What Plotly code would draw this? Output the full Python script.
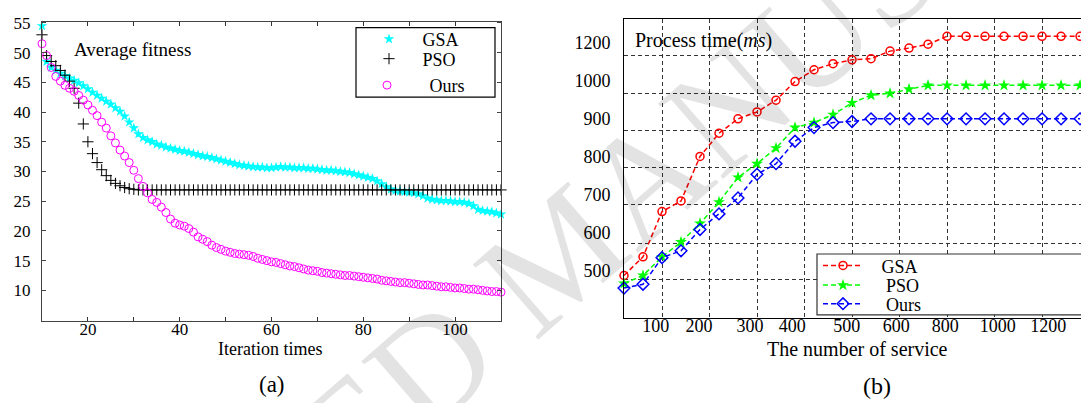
import plotly.graph_objects as go

W, H = 1081, 403


def px(x):
    return x / W


def py(y):
    return 1 - y / H


# ---------------- (a) convergence data ----------------
iterations = list(range(10, 111))

gsa_fitness = [
    54.5, 48.5, 47.5, 47.0, 46.5, 46.1, 45.7, 45.3, 44.9, 44.4,
    43.9, 43.3, 42.8, 42.3, 41.8, 41.3, 40.7, 40.1, 39.3, 38.3,
    37.3, 36.3, 35.7, 35.3, 35.0, 34.6, 34.4, 34.1, 33.9, 33.7,
    33.5, 33.4, 33.2, 33.0, 32.8, 32.6, 32.5, 32.3, 32.1, 31.9,
    31.7, 31.5, 31.3, 31.1, 31.0, 30.9, 30.8, 30.7, 30.7, 30.6,
    30.6, 30.7, 30.8, 30.7, 30.7, 30.6, 30.6, 30.6, 30.5, 30.5,
    30.4, 30.3, 30.2, 30.2, 30.1, 30.0, 29.9, 29.8, 29.6, 29.4,
    29.2, 29.0, 28.8, 28.4, 27.9, 27.4, 27.0, 26.8, 26.7, 26.6,
    26.5, 26.4, 26.2, 25.9, 25.5, 25.3, 25.2, 25.1, 25.1, 25.0,
    24.9, 24.9, 24.8, 24.6, 24.2, 23.6, 23.4, 23.3, 23.2, 23.0,
    22.8,
]

pso_fitness = [
    53.0, 49.5, 48.5, 47.8, 47.0, 46.2, 45.2, 44.0, 41.5, 38.0,
    35.0, 33.0, 31.5, 30.3, 29.3, 28.5, 28.0, 27.6, 27.3, 27.1,
    27.0, 26.9, 26.9, 26.9, 26.9, 26.9, 26.9, 26.9, 26.9, 26.9,
    26.9, 26.9, 26.9, 26.9, 26.9, 26.9, 26.9, 26.9, 26.9, 26.9,
    26.9, 26.9, 26.9, 26.9, 26.9, 26.9, 26.9, 26.9, 26.9, 26.9,
    26.9, 26.9, 26.9, 26.9, 26.9, 26.9, 26.9, 26.9, 26.9, 26.9,
    26.9, 26.9, 26.9, 26.9, 26.9, 26.9, 26.9, 26.9, 26.9, 26.9,
    26.9, 26.9, 26.9, 26.9, 26.9, 26.9, 26.9, 26.9, 26.9, 26.9,
    26.9, 26.9, 26.9, 26.9, 26.9, 26.9, 26.9, 26.9, 26.9, 26.9,
    26.9, 26.9, 26.9, 26.9, 26.9, 26.9, 26.9, 26.9, 26.9, 26.9,
    26.9,
]

ours_fitness = [
    51.5, 49.5, 47.5, 46.0, 45.2, 44.5, 44.0, 43.5, 42.8, 42.0,
    41.2, 40.3, 39.4, 38.3, 37.3, 36.0, 34.8, 33.6, 32.6, 31.5,
    30.2, 28.8, 27.5, 26.4, 25.3, 24.8, 24.0, 23.1, 22.0, 21.3,
    21.0, 20.8, 20.4, 19.8, 19.0, 18.6, 18.2, 17.6, 17.2, 16.9,
    16.6, 16.4, 16.2, 16.1, 16.0, 15.9, 15.7, 15.4, 15.2, 15.0,
    14.8, 14.7, 14.5, 14.3, 14.1, 14.0, 13.8, 13.6, 13.4, 13.3,
    13.2, 13.0, 12.9, 12.8, 12.7, 12.6, 12.5, 12.5, 12.4, 12.3,
    12.2, 12.1, 12.0, 11.9, 11.7, 11.6, 11.5, 11.4, 11.3, 11.3,
    11.2, 11.1, 11.0, 10.9, 10.9, 10.8, 10.7, 10.6, 10.6, 10.5,
    10.4, 10.4, 10.3, 10.2, 10.2, 10.1, 10.0, 9.9, 9.8, 9.8,
    9.7,
]

fit_y_ticks = [10, 15, 20, 25, 30, 35, 40, 45, 50, 55]
fit_x_ticks = [20, 40, 60, 80, 100]

# ---------------- (b) process time data ----------------
services = [20, 60, 100, 140, 180, 220, 260, 300, 340, 380, 420, 460, 500,
            540, 580, 620, 660, 700, 740, 780, 820, 860, 900, 940, 980]
gsa_time = [487, 536, 655, 683, 800, 861, 899, 917, 948, 997, 1028, 1044, 1054,
            1057, 1077, 1085, 1095, 1116, 1116, 1116, 1116, 1116, 1116, 1116, 1116]
pso_time = [466, 487, 536, 575, 624, 680, 745, 781, 822, 876, 889, 910, 941,
            961, 966, 977, 987, 987, 987, 987, 987, 987, 987, 987, 987]
ours_time = [454, 464, 534, 552, 608, 649, 691, 753, 781, 840, 876, 889, 892,
             899, 899, 899, 899, 899, 899, 899, 899, 899, 899, 899, 899]

svc_tick_text = ["100", "200", "300", "400", "500", "600", "800", "1000", "1200"]
time_tick_text = ["500", "600", "700", "800", "900", "1000", "1200"]

SERIF = "Liberation Serif"
NB = "\u00a0"

fig = go.Figure()

# ---- (a) traces ----
fig.add_trace(go.Scatter(
    x=iterations, y=gsa_fitness, mode="markers", name=NB * 3 + "GSA",
    marker=dict(symbol="star", size=8, color="#00FFFF", line=dict(width=0)),
    xaxis="x", yaxis="y", legend="legend2", cliponaxis=False))
fig.add_trace(go.Scatter(
    x=iterations, y=pso_fitness, mode="markers", name=NB * 3 + "PSO",
    marker=dict(symbol="cross-thin-open", size=8, color="black",
                line=dict(width=1, color="black")),
    xaxis="x", yaxis="y", legend="legend3", cliponaxis=False))
fig.add_trace(go.Scatter(
    x=iterations, y=ours_fitness, mode="markers", name=NB * 5 + "Ours",
    marker=dict(symbol="circle-open", size=8, color="#FF00FF",
                line=dict(width=1, color="#FF00FF")),
    xaxis="x", yaxis="y", legend="legend4", cliponaxis=False))

# ---- (b) traces ----
fig.add_trace(go.Scatter(
    x=services, y=gsa_time, mode="lines+markers", name=NB * 3 + "GSA",
    line=dict(color="#FF0000", width=1.5, dash="5px,3px"),
    marker=dict(symbol="circle-open", size=8, color="#FF0000", line=dict(width=1.5)),
    xaxis="x2", yaxis="y2", legend="legend5", cliponaxis=False))
fig.add_trace(go.Scatter(
    x=services, y=pso_time, mode="lines+markers", name=NB * 4 + "PSO",
    line=dict(color="#00FF00", width=1.5, dash="5px,3px"),
    marker=dict(symbol="star", size=9, color="#00FF00", line=dict(width=0)),
    xaxis="x2", yaxis="y2", legend="legend6", cliponaxis=False))
fig.add_trace(go.Scatter(
    x=services, y=ours_time, mode="lines+markers", name=NB * 4 + "Ours",
    line=dict(color="#0000FF", width=1.5, dash="5px,3px"),
    marker=dict(symbol="diamond-open", size=9, color="#0000FF", line=dict(width=1.5)),
    xaxis="x2", yaxis="y2", legend="legend7", cliponaxis=False))

tickfont_a = dict(family=SERIF, size=17, color="black")
tickfont_b = dict(family=SERIF, size=18, color="black")
grid_style = dict(showgrid=True, gridcolor="#333333", gridwidth=1, griddash="4px,3px")


def one_legend(xp, yp, size, itemwidth):
    return dict(x=px(xp), y=py(yp), xanchor="left", yanchor="middle",
                bgcolor="rgba(0,0,0,0)", borderwidth=0,
                font=dict(family=SERIF, size=size, color="black"),
                itemwidth=itemwidth)


fig.update_layout(
    width=W, height=H,
    margin=dict(l=0, r=0, t=0, b=0),
    paper_bgcolor="white", plot_bgcolor="white",
    font=dict(family=SERIF, color="black"),
    xaxis=dict(
        domain=[px(42), px(501)], anchor="y", range=[10, 110],
        tickmode="array", tickvals=fit_x_ticks, ticks="inside", ticklen=4,
        tickcolor="#333", showgrid=False, zeroline=False,
        showline=True, linecolor="#444", linewidth=1, mirror="ticks",
        tickfont=tickfont_a, ticklabelstandoff=-7,
        minor=dict(dtick=10, tick0=10, ticks="inside", ticklen=4, tickcolor="#333"),
    ),
    yaxis=dict(
        domain=[py(319), py(14)], anchor="x", range=[4.9, 55.2],
        tickmode="array", tickvals=fit_y_ticks, ticks="inside", ticklen=4,
        tickcolor="#444", showgrid=False, zeroline=False,
        showline=True, linecolor="#444", linewidth=1, mirror="ticks",
        tickfont=tickfont_a, ticklabelstandoff=7,
    ),
    xaxis2=dict(
        domain=[px(624), 1.0], anchor="y2", range=[20, 982],
        tickmode="array", tickvals=[87, 178, 285, 374, 489, 593, 696, 807, 913],
        ticktext=svc_tick_text, ticks="", showgrid=False, zeroline=False,
        showline=True, linecolor="black", linewidth=1, mirror=True,
        tickfont=tickfont_b, ticklabelstandoff=-8,
        minor=dict(tickmode="array", tickvals=[100, 200, 300, 400, 500, 600, 700, 800, 900],
                   ticks="", **grid_style),
    ),
    yaxis2=dict(
        domain=[py(316), py(11)], anchor="x2", range=[376, 1162],
        tickmode="array", tickvals=[500, 600, 700, 800, 900, 1000, 1100],
        ticktext=time_tick_text, ticks="", showgrid=False, zeroline=False,
        showline=True, linecolor="black", linewidth=1,
        tickfont=tickfont_b, ticklabelstandoff=9,
        minor=dict(tickmode="array", tickvals=[476, 572, 673, 770, 868, 966, 1066],
                   ticks="", **grid_style),
    ),
    showlegend=True,
    legend2=one_legend(369, 32, 18, 30),
    legend3=one_legend(369, 52, 18, 30),
    legend4=one_legend(367, 79, 18, 30),
    legend5=one_legend(818, 263, 18, 40),
    legend6=one_legend(818, 283, 18, 40),
    legend7=one_legend(818, 302, 18, 40),
    shapes=[
        dict(type="rect", xref="paper", yref="paper",
             x0=px(356), x1=px(495), y0=py(91), y1=py(20),
             line=dict(color="black", width=1.2), fillcolor="white", layer="above"),
        dict(type="rect", xref="paper", yref="paper",
             x0=px(817), x1=px(1090), y0=py(313), y1=py(251),
             line=dict(color="#333", width=1.2), fillcolor="white", layer="above"),
    ],
    annotations=[
        dict(text="ACCEPTED MANUSCRIPT", x=px(560), y=py(250), xref="paper", yref="paper",
             showarrow=False, textangle=-41,
             font=dict(family=SERIF, size=152, color="rgba(0,0,0,0.11)")),
        dict(text="Average fitness", x=px(72), y=py(42), xref="paper", yref="paper",
             xanchor="left", yanchor="middle", showarrow=False,
             font=dict(family=SERIF, size=19, color="black")),
        dict(text="Iteration times", x=px(270), y=py(348), xref="paper", yref="paper",
             xanchor="center", yanchor="middle", showarrow=False,
             font=dict(family=SERIF, size=18, color="black")),
        dict(text="(a)", x=px(272), y=py(384), xref="paper", yref="paper",
             xanchor="center", yanchor="middle", showarrow=False,
             font=dict(family=SERIF, size=23, color="black")),
        dict(text="Process time(<i>ms</i>)", x=px(633), y=py(33), xref="paper", yref="paper",
             xanchor="left", yanchor="middle", showarrow=False,
             font=dict(family=SERIF, size=20, color="black")),
        dict(text="The number of service", x=px(857), y=py(348), xref="paper", yref="paper",
             xanchor="center", yanchor="middle", showarrow=False,
             font=dict(family=SERIF, size=20, color="black")),
        dict(text="(b)", x=px(877), y=py(386), xref="paper", yref="paper",
             xanchor="center", yanchor="middle", showarrow=False,
             font=dict(family=SERIF, size=24, color="black")),
    ],
)

fig.write_html(
    "out.html",
    config={"displayModeBar": False},
    post_script="document.body.style.margin='0';document.body.style.overflow='hidden';",
)
